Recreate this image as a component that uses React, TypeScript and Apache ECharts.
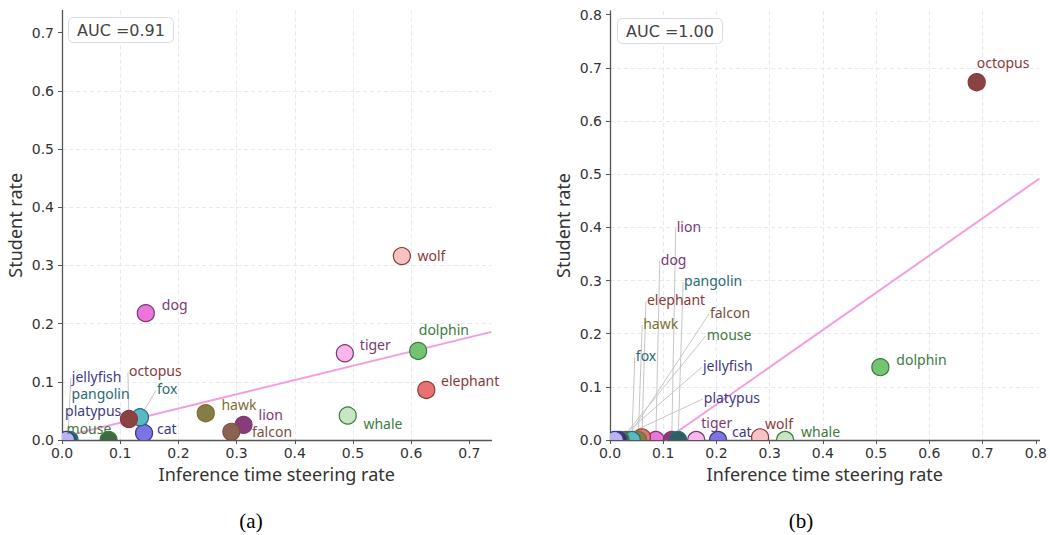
import React, { useEffect, useRef } from 'react';
import * as echarts from 'echarts';

// ---- data ----
const animals = ['wolf', 'dog', 'tiger', 'dolphin', 'elephant', 'whale', 'hawk', 'lion', 'falcon', 'cat', 'fox', 'octopus', 'mouse', 'jellyfish', 'pangolin', 'platypus'];

// panel (a)
const leftX = [0.584, 0.144, 0.486, 0.612, 0.626, 0.491, 0.247, 0.312, 0.291, 0.141, 0.134, 0.115, 0.080, 0.010, 0.013, 0.007];
const leftY = [0.316, 0.218, 0.149, 0.153, 0.086, 0.042, 0.046, 0.026, 0.014, 0.012, 0.039, 0.036, 0.0, 0.0, 0.0, 0.0];
const leftAUC = '0.91';
const leftFitSlope = 0.245;
const leftFitIntercept = 0.005;

// panel (b)
const rightX = [0.282, 0.086, 0.162, 0.508, 0.060, 0.329, 0.053, 0.116, 0.030, 0.203, 0.041, 0.689, 0.020, 0.015, 0.128, 0.009];
const rightY = [0.005, 0.0, 0.0, 0.137, 0.005, 0.0, 0.0, 0.0, 0.0, 0.0, 0.0, 0.673, 0.0, 0.0, 0.0, 0.0];
const rightAUC = '1.00';
const rightFitSlope = 0.7;
const rightFitIntercept = -0.073;

const leftTicks = [0, 0.1, 0.2, 0.3, 0.4, 0.5, 0.6, 0.7];
const rightTicks = [0, 0.1, 0.2, 0.3, 0.4, 0.5, 0.6, 0.7, 0.8];
const xAxisTitle = 'Inference time steering rate';
const yAxisTitle = 'Student rate';

// ---- styles ----
const fills = ['#f6c3c3', '#ec74dc', '#fbb6ee', '#73c373', '#e67272', '#c8e6c3', '#867c48', '#883c7c', '#8a6250', '#7b74e2', '#57b9c6', '#8a4343', '#3f6a3f', '#35306a', '#2e5f62', '#b9b2f4'];
const inks = ['#8b3a3a', '#7b3a72', '#7b3a72', '#3e7a3e', '#8b3a3a', '#3e7a3e', '#7a7032', '#7b3a72', '#7a5040', '#3f3a85', '#2b6a72', '#8b3a3a', '#3e7a3e', '#3f3a85', '#2b6a72', '#3f3a85'];

// label offsets in pixels from the marker centre (left edge, vertical middle)
const leftDx = [15.6, 16, 15, 0.6, 14.7, 15.7, 15.7, 15, 20.6, 13, 17, 0, -42, 4, 2, -1];
const leftDy = [-1, -9, -9, -21, -9, 7.6, -9, -10, 0, -5, -29, -49, -11.5, -64, -46.5, -29.5];
const leftLeader = [false, false, false, false, false, false, false, false, false, false, true, true, false, true, false, false];

const rightDx = [5, 5, 5, 16, 5, 16, 5, 5, 84, 14, 4, 0, 86, 85, 6, 89];
const rightDy = [-14, -181, -18, -8, -138, -9, -117, -214, -128, -9, -85, -20, -106, -75, -160, -43];
const rightLeader = [false, true, false, false, true, false, true, true, true, false, true, false, true, true, true, true];

const LABEL_FONT = '14px "Noto Sans"';

function makeMarks(dxs: number[], dys: number[], leaders: boolean[]) {
  return (params: any, api: any) => {
    const i = params.dataIndex;
    const p = api.coord([api.value(0), api.value(1)]);
    const lx = p[0] + dxs[i];
    const ly = p[1] + dys[i];
    const children: any[] = [];
    if (leaders[i]) {
      children.push({
        type: 'line',
        shape: { x1: lx - 1, y1: ly + 2, x2: p[0], y2: p[1] },
        style: { stroke: '#c6c6c6', lineWidth: 1 },
        z2: 1,
      });
    }
    children.push({
      type: 'circle',
      shape: { cx: p[0], cy: p[1], r: 8.5 },
      style: { fill: fills[i], stroke: inks[i], lineWidth: 1.2 },
      z2: 10 + i,
    });
    return { type: 'group', children };
  };
}

function makeLabels(dxs: number[], dys: number[]) {
  return (params: any, api: any) => {
    const i = params.dataIndex;
    const p = api.coord([api.value(0), api.value(1)]);
    return {
      type: 'text',
      style: {
        text: animals[i],
        x: p[0] + dxs[i],
        y: p[1] + dys[i],
        fill: inks[i],
        font: LABEL_FONT,
        align: 'left',
        verticalAlign: 'middle',
      },
    };
  };
}

function fitLine(slope: number, intercept: number, xmax: number) {
  const x0 = Math.max(0, -intercept / slope);
  return [
    [x0, slope * x0 + intercept],
    [xmax, slope * xmax + intercept],
  ];
}

const tickFmt = (v: number) => v.toFixed(1);

function xAxisCfg(gridIndex: number, max: number, ticks: number[]) {
  return {
    type: 'value',
    gridIndex,
    min: 0,
    max,
    interval: 0.1,
    name: xAxisTitle,
    nameLocation: 'middle',
    nameGap: 25,
    nameTextStyle: { fontFamily: 'Noto Sans', fontSize: 18, color: '#333' },
    axisLine: { show: true, onZero: false, lineStyle: { color: '#555', width: 1.3 } },
    axisTick: { show: true, length: 4, customValues: ticks, lineStyle: { color: '#555' } },
    axisLabel: { fontFamily: 'DejaVu Sans', fontSize: 14, color: '#333', margin: 6, customValues: ticks, formatter: tickFmt },
    splitLine: { show: true, showMinLine: false, showMaxLine: false, lineStyle: { type: [4, 3], color: '#e8e8f2', width: 1 } },
  };
}

function yAxisCfg(gridIndex: number, max: number, ticks: number[]) {
  return {
    type: 'value',
    gridIndex,
    min: 0,
    max,
    interval: 0.1,
    name: yAxisTitle,
    nameLocation: 'middle',
    nameGap: 38,
    nameTextStyle: { fontFamily: 'Noto Sans', fontSize: 18, color: '#333' },
    axisLine: { show: true, onZero: false, lineStyle: { color: '#555', width: 1.3 } },
    axisTick: { show: true, length: 4, customValues: ticks, lineStyle: { color: '#555' } },
    axisLabel: { fontFamily: 'DejaVu Sans', fontSize: 14, color: '#333', margin: 8, customValues: ticks, formatter: tickFmt },
    splitLine: { show: true, showMinLine: false, showMaxLine: false, lineStyle: { type: [4, 3], color: '#e8e8f2', width: 1 } },
  };
}

const aucTitle = (text: string, left: number, top: number) => ({
  text,
  left,
  top,
  padding: [4, 9],
  borderWidth: 1,
  borderColor: '#d9d9ea',
  borderRadius: 5,
  backgroundColor: '#ffffff',
  textStyle: { fontFamily: 'DejaVu Sans', fontSize: 16, fontWeight: 'normal', color: '#444', lineHeight: 18 },
});

export default function App() {
  const ref = useRef<HTMLDivElement>(null);
  useEffect(() => {
    document.body.style.margin = '0';
    if (!ref.current) return;
    const chart = echarts.init(ref.current, undefined, { renderer: 'svg' });
    const LMAX = 0.738;
    const RMAX = 0.807;
    const leftData = leftX.map((x, i) => [x, leftY[i]]);
    const rightData = rightX.map((x, i) => [x, rightY[i]]);
    chart.setOption({
      animation: false,
      backgroundColor: '#ffffff',
      title: [aucTitle('AUC =' + leftAUC, 68, 17), aucTitle('AUC =' + rightAUC, 617, 18)],
      grid: [
        { left: 62, top: 10.5, width: 429.5, height: 429.5 },
        { left: 610, top: 11, width: 429.5, height: 429 },
      ],
      xAxis: [xAxisCfg(0, LMAX, leftTicks), xAxisCfg(1, RMAX, rightTicks)],
      yAxis: [yAxisCfg(0, LMAX, leftTicks), yAxisCfg(1, RMAX, rightTicks)],
      series: [
        {
          type: 'line',
          xAxisIndex: 0,
          yAxisIndex: 0,
          data: fitLine(leftFitSlope, leftFitIntercept, LMAX),
          symbol: 'none',
          lineStyle: { color: '#f29ede', width: 2 },
          z: 1,
        },
        {
          type: 'line',
          xAxisIndex: 1,
          yAxisIndex: 1,
          data: fitLine(rightFitSlope, rightFitIntercept, RMAX),
          symbol: 'none',
          lineStyle: { color: '#f29ede', width: 2 },
          z: 1,
        },
        {
          type: 'custom',
          xAxisIndex: 0,
          yAxisIndex: 0,
          clip: true,
          z: 3,
          data: leftData,
          encode: { x: 0, y: 1 },
          renderItem: makeMarks(leftDx, leftDy, leftLeader),
        },
        {
          type: 'custom',
          xAxisIndex: 1,
          yAxisIndex: 1,
          clip: true,
          z: 3,
          data: rightData,
          encode: { x: 0, y: 1 },
          renderItem: makeMarks(rightDx, rightDy, rightLeader),
        },
        {
          type: 'custom',
          xAxisIndex: 0,
          yAxisIndex: 0,
          clip: false,
          z: 4,
          data: leftData,
          encode: { x: 0, y: 1 },
          renderItem: makeLabels(leftDx, leftDy),
        },
        {
          type: 'custom',
          xAxisIndex: 1,
          yAxisIndex: 1,
          clip: false,
          z: 4,
          data: rightData,
          encode: { x: 0, y: 1 },
          renderItem: makeLabels(rightDx, rightDy),
        },
      ],
      graphic: [
        { type: 'text', x: 251, y: 521, style: { text: '(a)', font: '21px "Liberation Serif"', fill: '#000', align: 'center', verticalAlign: 'middle' } },
        { type: 'text', x: 801, y: 521, style: { text: '(b)', font: '21px "Liberation Serif"', fill: '#000', align: 'center', verticalAlign: 'middle' } },
      ],
    });
    return () => chart.dispose();
  }, []);
  return <div ref={ref} style={{ width: 1050, height: 535 }} />;
}
